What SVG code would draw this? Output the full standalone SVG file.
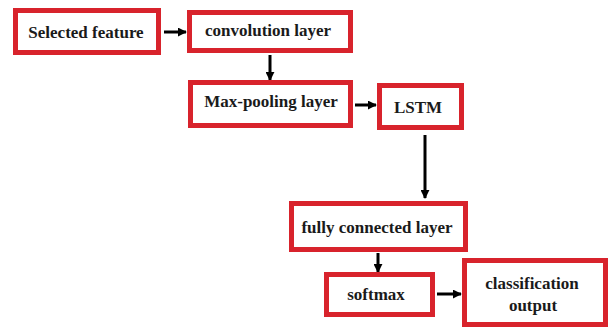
<svg xmlns="http://www.w3.org/2000/svg" width="612" height="329" viewBox="0 0 612 329">
  <style>
    .box { fill: #ffffff; stroke: #d8232c; stroke-width: 5; }
    .lbl { font-family: "Liberation Serif", "Times New Roman", "DejaVu Serif", serif; font-weight: bold; font-size: 17px; fill: #1a1a1a; text-anchor: middle; }
    .conn { stroke: #000000; stroke-width: 3; fill: none; }
  </style>
  <defs>
    <marker id="head" viewBox="0 0 10 10" refX="9" refY="5" markerWidth="3" markerHeight="3" orient="auto" markerUnits="strokeWidth">
      <path d="M0,0 L10,5 L0,10 z" fill="#000000"/>
    </marker>
  </defs>
  <rect width="612" height="329" fill="#ffffff"/>

  <g id="connectors">
    <line class="conn" x1="164" y1="32" x2="186" y2="32" marker-end="url(#head)"/>
    <line class="conn" x1="270" y1="55" x2="270" y2="80" marker-end="url(#head)"/>
    <line class="conn" x1="355" y1="105" x2="376" y2="105" marker-end="url(#head)"/>
    <line class="conn" x1="425" y1="135" x2="425" y2="198" marker-end="url(#head)"/>
    <line class="conn" x1="378" y1="253" x2="378" y2="272" marker-end="url(#head)"/>
    <line class="conn" x1="437" y1="294" x2="461" y2="294" marker-end="url(#head)"/>
  </g>

  <g id="selected-feature">
    <rect class="box" x="15.5" y="10.5" width="143" height="42"/>
    <text class="lbl" x="86" y="38">Selected feature</text>
  </g>
  <g id="convolution-layer">
    <rect class="box" x="189.5" y="12.5" width="161" height="38"/>
    <text class="lbl" x="268" y="36">convolution layer</text>
  </g>
  <g id="max-pooling-layer">
    <rect class="box" x="190.5" y="82.5" width="160" height="43"/>
    <text class="lbl" x="271" y="107">Max-pooling layer</text>
  </g>
  <g id="lstm">
    <rect class="box" x="379.5" y="85.5" width="82" height="42"/>
    <text class="lbl" x="418" y="113">LSTM</text>
  </g>
  <g id="fully-connected-layer">
    <rect class="box" x="291.5" y="203.5" width="174" height="46"/>
    <text class="lbl" x="377" y="233">fully connected layer</text>
  </g>
  <g id="softmax">
    <rect class="box" x="326.5" y="274.5" width="106" height="40"/>
    <text class="lbl" x="376" y="300">softmax</text>
  </g>
  <g id="classification-output">
    <rect class="box" x="464.5" y="260.5" width="141" height="64"/>
    <text class="lbl" x="532" y="289">classification</text>
    <text class="lbl" x="533" y="311">output</text>
  </g>
</svg>
